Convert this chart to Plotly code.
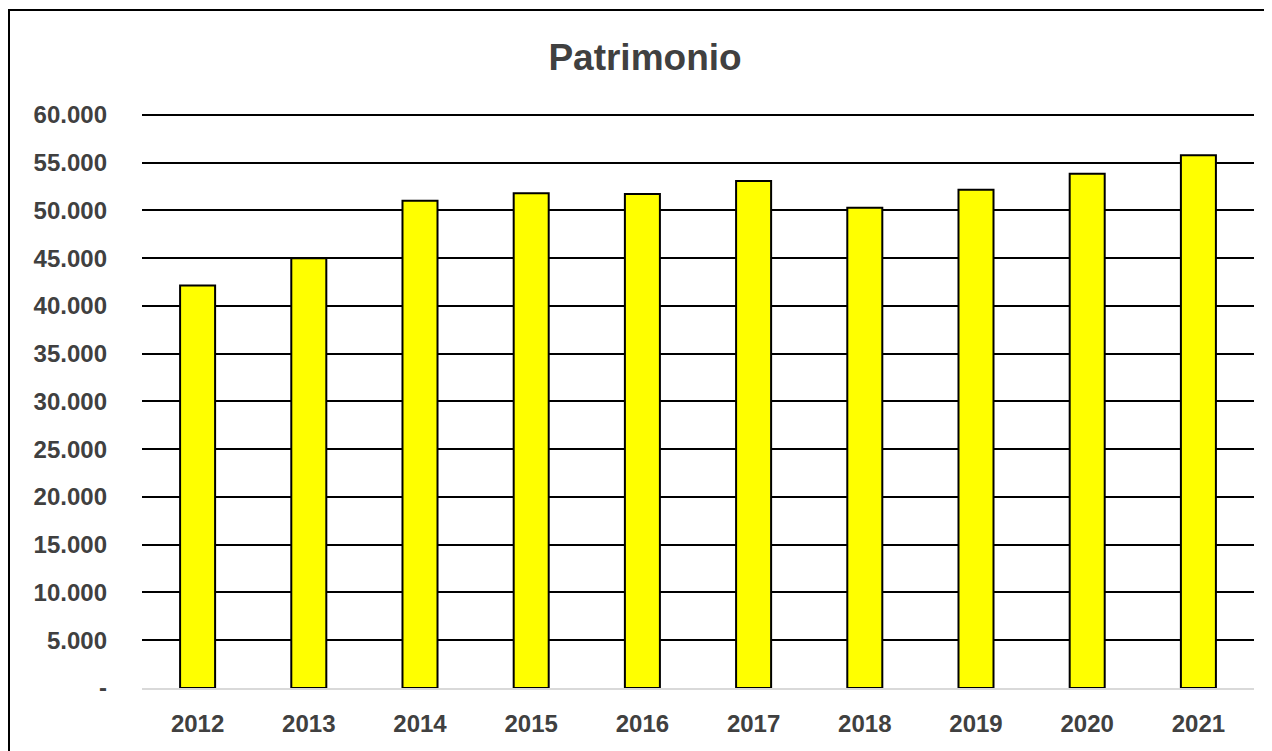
import plotly.graph_objects as go

years = ["2012", "2013", "2014", "2015", "2016", "2017", "2018", "2019", "2020", "2021"]
patrimonio = [42130, 45000, 51020, 51790, 51720, 53080, 50290, 52170, 53850, 55770]

tick_vals = [0, 5000, 10000, 15000, 20000, 25000, 30000, 35000, 40000, 45000, 50000, 55000, 60000]
tick_text = ["-", "5.000", "10.000", "15.000", "20.000", "25.000", "30.000",
             "35.000", "40.000", "45.000", "50.000", "55.000", "60.000"]

FONT = "Liberation Sans, Arial, sans-serif"
GREY = "#404040"

fig = go.Figure()
fig.add_trace(
    go.Bar(
        x=years,
        y=patrimonio,
        marker=dict(color="#ffff00", line=dict(color="black", width=2)),
        hoverinfo="x+y",
    )
)

# page body adds an 8px offset, so the figure is 8px smaller than the window
W, H = 1264, 743
L, R, T, B = 134, 18, 105, 63
pw, ph = W - L - R, H - T - B

fig.update_layout(
    width=W,
    height=H,
    margin=dict(l=L, r=R, t=T, b=B),
    paper_bgcolor="white",
    plot_bgcolor="white",
    bargap=0.685,
    showlegend=False,
    title=dict(
        text="<b>Patrimonio</b>",
        font=dict(family=FONT, size=37, color=GREY),
        x=637 / W,
        xanchor="center",
        xref="container",
        y=1 - 49 / H,
        yref="container",
        yanchor="middle",
    ),
    font=dict(family=FONT, color=GREY),
    shapes=[
        # outer frame, only top and left edges fall inside the picture
        dict(
            type="rect",
            xref="paper",
            yref="paper",
            x0=(1 - L) / pw,
            x1=1.5,
            y0=-0.5,
            y1=1 + (T - 2) / ph,
            line=dict(color="black", width=2),
            layer="above",
        )
    ],
)

# a little headroom above 60.000 so its gridline is not dropped at the edge
fig.update_yaxes(
    range=[0, 60200],
    tickvals=tick_vals,
    ticktext=tick_text,
    tickfont=dict(family=FONT, size=24, color=GREY, weight="bold"),
    ticklabelstandoff=34,
    showgrid=True,
    gridcolor="black",
    gridwidth=1.5,
    zeroline=False,
    showline=False,
    ticks="",
)
fig.update_xaxes(
    tickfont=dict(family=FONT, size=24, color=GREY, weight="bold"),
    ticklabelstandoff=13,
    showline=True,
    linecolor="#d9d9d9",
    linewidth=2,
    ticks="",
)

fig.write_html("out.html")
